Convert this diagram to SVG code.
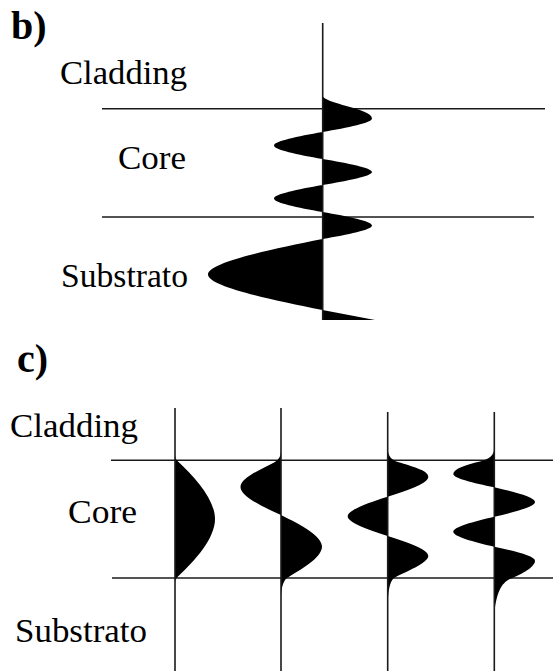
<svg xmlns="http://www.w3.org/2000/svg" width="553" height="671" viewBox="0 0 553 671">
<style>
.ln{stroke:#1a1a1a;stroke-width:1.6;fill:none}
.wave{fill:#000;stroke:none}
</style>
<rect width="553" height="671" fill="#fff"/>
<g id="panel-b">
  <text style="font-family:'Liberation Serif',serif;font-size:40px;font-weight:bold" fill="#000" x="11" y="39">b)</text>
  <text style="font-family:'Liberation Serif',serif;font-size:34px" fill="#000" x="60" y="84" textLength="127" lengthAdjust="spacingAndGlyphs">Cladding</text>
  <text style="font-family:'Liberation Serif',serif;font-size:34px" fill="#000" x="118" y="169" textLength="68" lengthAdjust="spacingAndGlyphs">Core</text>
  <text style="font-family:'Liberation Serif',serif;font-size:34px" fill="#000" x="61" y="287" textLength="127" lengthAdjust="spacingAndGlyphs">Substrato</text>
  <g id="b-lines">
    <line class="ln" x1="102" y1="108.7" x2="545" y2="108.7"/>
    <line class="ln" x1="102" y1="217" x2="534" y2="217"/>
  </g>
  <path id="b-mode" class="wave" d="M322.5 95 C 322.5 104, 372 108, 372 118.5 C 372 122.8, 347.9 127.6, 322.5 132 C 297.6 136.4, 274 141.2, 274 145.5 C 274 149.8, 297.6 154.6, 322.5 159 C 347.9 163.25, 372 167.9, 372 172 C 372 176.1, 347.9 180.75, 322.5 185 C 297.6 189.4, 274 194.2, 274 198.5 C 274 202.8, 297.6 207.6, 322.5 212 C 347.9 216.4, 372 221.2, 372 225.5 C 372 229.8, 347.9 234.6, 322.5 239 C 263.8 250.6, 208 263.2, 208 274.5 C 208 285.8, 263.8 298.4, 322.5 310 L 375 320 L 322.5 320 Z"/>
  <line class="ln" x1="322.7" y1="23" x2="322.7" y2="320"/>
</g>
<g id="panel-c">
  <text style="font-family:'Liberation Serif',serif;font-size:40px;font-weight:bold" fill="#000" x="17" y="372">c)</text>
  <text style="font-family:'Liberation Serif',serif;font-size:34px" fill="#000" x="10" y="437" textLength="128" lengthAdjust="spacingAndGlyphs">Cladding</text>
  <text style="font-family:'Liberation Serif',serif;font-size:34px" fill="#000" x="68" y="523" textLength="69" lengthAdjust="spacingAndGlyphs">Core</text>
  <text style="font-family:'Liberation Serif',serif;font-size:34px" fill="#000" x="15" y="642" textLength="132" lengthAdjust="spacingAndGlyphs">Substrato</text>
  <g id="c-lines">
    <line class="ln" x1="111" y1="460.3" x2="553" y2="460.3"/>
    <line class="ln" x1="112" y1="578" x2="553" y2="578"/>
  </g>
  <g id="mode0">
    <path class="wave" d="M175 454 C 175 458, 176 459.5, 177.5 461 C 195.5 477.9, 215 499.6, 215 519 C 215 538.4, 195.5 560.1, 177.5 577 C 176 578.5, 175 580, 175 584 Z"/>
    <line class="ln" x1="175" y1="408" x2="175" y2="671"/>
  </g>
  <g id="mode1">
    <path class="wave" d="M281 450 C 281 456, 279 459, 275 462 C 260 470, 240.5 478, 240.5 487 C 240.5 495.9, 260.2 505.9, 281 515 C 302 525.3, 322 536.5, 322 546.5 C 322 558, 300 570, 287 578 C 283 581, 281.5 588, 281 597 Z"/>
    <line class="ln" x1="281" y1="408" x2="281" y2="671"/>
  </g>
  <g id="mode2">
    <path class="wave" d="M387.7 448 C 388 455, 390 458, 395 461 C 410 466, 428.3 470, 428.3 476.7 C 428.3 483.1, 408.5 490.2, 387.7 496.7 C 367.2 503.1, 347.7 510.1, 347.7 516.35 C 347.7 522.6, 367.2 529.6, 387.7 536 C 408.5 542.5, 428.3 549.6, 428.3 556 C 428.3 563, 405 572, 394 578 C 390 581, 388 590, 387.7 606 Z"/>
    <line class="ln" x1="387.7" y1="412" x2="387.7" y2="671"/>
  </g>
  <g id="mode3">
    <path class="wave" d="M494.3 448 C 494 455, 490 459, 480 461.5 C 465 465, 453.3 469, 453.3 474 C 453.3 478.2, 473.3 483, 494.3 487.3 C 515.2 492.1, 535 497.3, 535 502 C 535 506.7, 515.2 511.9, 494.3 516.7 C 473.3 521.6, 453.3 526.9, 453.3 531.7 C 453.3 536.5, 473.3 541.8, 494.3 546.7 C 515.2 551.3, 535 556.2, 535 560.7 C 535 567, 522 574, 511 578.5 C 502 582, 496 592, 494.3 615 Z"/>
    <line class="ln" x1="494.3" y1="412" x2="494.3" y2="671"/>
  </g>
</g>
</svg>
